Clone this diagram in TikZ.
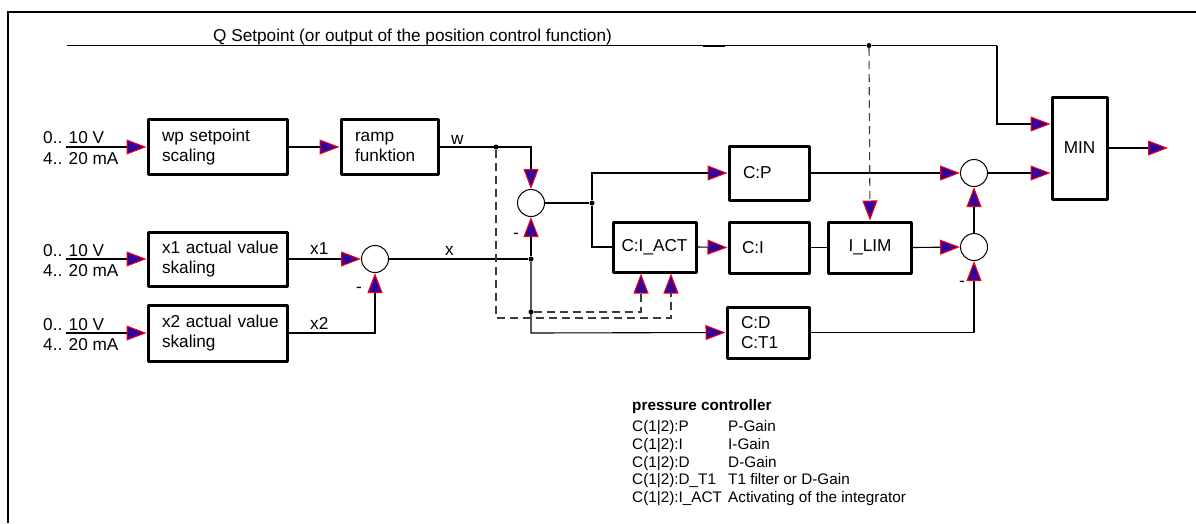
\documentclass[tikz,border=0pt]{standalone}
\usepackage{fontspec}
\setmainfont{Liberation Sans}
\usetikzlibrary{arrows.meta}
\definecolor{ablue}{RGB}{51,0,160}
\definecolor{ared}{RGB}{255,0,0}
\definecolor{dgray}{RGB}{60,60,60}
\begin{document}
\begin{tikzpicture}[x=1pt,y=-1pt,
  every node/.style={font=\fontsize{17.2}{20}\selectfont},
  blk/.style={draw,line width=3pt,line join=round,inner ysep=0pt,align=left},
  sumc/.style={draw,circle,line width=1pt,minimum size=27pt,inner sep=0pt},
  conn/.style={line width=1.1pt,draw=black},
  arr/.style={conn,-{Triangle[length=20pt,width=15pt,color=ared,fill=ablue,line width=1pt]}},
  dsh/.style={line width=1.1pt,draw=dgray,dash pattern=on 8pt off 5pt},
  darr/.style={dsh,-{Triangle[length=20pt,width=15pt,color=ared,fill=ablue,line width=1pt]}},
  dot/.style={circle,fill=black,inner sep=0pt,minimum size=5pt},
  lbl/.style={inner sep=0pt,anchor=base west},
  leg/.style={inner sep=0pt,anchor=base west,font=\fontsize{15.3}{17.8}\selectfont}
]
\useasboundingbox (0,0) rectangle (1196,523);
% frame
\draw[line width=2pt] (7.5,523) -- (7.5,12) -- (1196,12);

% blocks
\node[blk,text width=111pt,inner xsep=14pt,minimum height=55pt] (wp) at (217.5,147) {\mbox{wp setpoint}\\scaling};
\node[blk,text width=69pt,inner xsep=14pt,minimum height=55pt] (ramp) at (389.5,147) {ramp\\funktion};
\node[blk,text width=111pt,inner xsep=14pt,minimum height=54pt] (x1) at (217.5,259) {\mbox{x1 actual value}\\skaling};
\node[blk,text width=111pt,inner xsep=14pt,minimum height=56pt] (x2) at (217.5,333) {\mbox{x2 actual value}\\skaling};
\node[blk,text width=52pt,inner xsep=14pt,minimum height=54pt] (cp) at (769,173) {C:P};
\node[blk,text width=69pt,inner xsep=7pt,minimum height=50pt,align=center] (ciact) at (654.5,247) {\mbox{C:I\_ACT}};
\node[blk,text width=54pt,inner xsep=13pt,minimum height=51pt] (ci) at (769,247.5) {C:I};
\node[blk,text width=55pt,inner xsep=14pt,minimum height=51pt,align=center] (ilim) at (870,247.5) {I\_LIM};
\node[blk,text width=54pt,inner xsep=14pt,minimum height=51pt] (cd) at (768,332.5) {C:D\\C:T1};
\node[blk,text width=45pt,inner xsep=5pt,minimum height=102pt,align=center] (min) at (1079.5,148) {MIN};

% summing points
\node[sumc] (s1) at (375,259) {};
\node[sumc] (s2) at (531,203) {};
\node[sumc] (s3) at (974,173) {};
\node[sumc] (s4) at (974,247) {};

% junctions and free ends
\coordinate (inA) at (66,147);
\coordinate (inB) at (66,259);
\coordinate (inC) at (66,333);
\node[dot] (jw) at (496,147) {};
\coordinate (jw2) at (531,147);
\node[dot] (jx) at (531,259) {};
\node[dot] (j2) at (531,312) {};
\coordinate (jd) at (531,333);
\node[dot] (jp) at (592,203) {};
\coordinate (q0) at (67,45.5);
\node[dot] (jq) at (869,45.5) {};
\coordinate (q1) at (997,45.5);
\coordinate (q2) at (997,124);
\coordinate (qa) at (703,46);
\coordinate (qb) at (725,46);
\coordinate (out) at (1168,148);
\coordinate (da) at (496,318);
\coordinate (db) at (671,318);
\coordinate (dc) at (641,312);

% input labels
\node[lbl] (a1) at (43,143) {0.. 10 V};
\node[lbl] (a2) at (43,164) {4.. 20 mA};
\node[lbl] (b1) at (43,256) {0.. 10 V};
\node[lbl] (b2) at (43,276) {4.. 20 mA};
\node[lbl] (c1) at (43,330) {0.. 10 V};
\node[lbl] (c2) at (43,350) {4.. 20 mA};

% signal labels
\node[lbl] (lq) at (213,41.5) {Q Setpoint (or output of the position control function)};
\node[lbl] (lw) at (451,144) {w};
\node[lbl] (lx1) at (310,254) {x1};
\node[lbl] (lx2) at (310,329) {x2};
\node[lbl] (lx) at (445,255) {x};
\node[inner sep=0pt] (m1) at (359,290) {-};
\node[inner sep=0pt] (m2) at (516,236) {-};
\node[inner sep=0pt] (m3) at (962,284) {-};

% connectors
\draw[arr] (inA) -- (wp.west);
\draw[arr] (inB) -- (x1.west);
\draw[arr] (inC) -- (x2.west);
\draw[arr] (wp.east) -- (ramp.west);
\draw[arr] (ramp.east) -- (jw2) -- (s2.north);
\draw[arr] (x1.east) -- (s1.west);
\draw[arr] (x2.east) -| (s1.south);
\draw[conn] (s1.east) -- (jx);
\draw[arr] (jx) -- (s2.south);
\draw[arr] (jx) -- (jd) -- (cd.west);
\draw[conn] (s2.east) -- (jp);
\draw[arr] (jp) |- (cp.west);
\draw[conn] (jp) |- (ciact.west);
\draw[arr] (ciact.east) -- (ci.west);
\draw[conn] (ci.east) -- (ilim.west);
\draw[arr] (cp.east) -- (s3.west);
\draw[arr] (ilim.east) -- (s4.west);
\draw[arr] (cd.east) -| (s4.south);
\draw[arr] (s4.north) -- (s3.south);
\draw[arr] (s3.east) -- (min.west |- s3.east);
\draw[conn] (q0) -- (jq) -- (q1);
\draw[line width=2pt] (qa) -- (qb);
\draw[arr] (q1) -- (q2) -- (min.west |- q2);
\draw[arr] (min.east |- out) -- (out);
\draw[darr] (jq) -- (ilim.north);
\draw[darr] (jw) -- (da) -- (db) -- (ciact.south -| db);
\draw[darr] (j2) -- (dc) -- (ciact.south -| dc);

% legend
\node[leg,font=\fontsize{15.3}{17.8}\selectfont\bfseries] (lt) at (632,410) {pressure controller};
\node[leg] (p1) at (632,431.5) {C(1|2):P};
\node[leg] (p2) at (632,449.3) {C(1|2):I};
\node[leg] (p3) at (632,467.1) {C(1|2):D};
\node[leg] (p4) at (632,484.9) {C(1|2):D\_T1};
\node[leg] (p5) at (632,502.7) {C(1|2):I\_ACT};
\node[leg] (g1) at (728,431.5) {P-Gain};
\node[leg] (g2) at (728,449.3) {I-Gain};
\node[leg] (g3) at (728,467.1) {D-Gain};
\node[leg] (g4) at (728,484.9) {T1 filter or D-Gain};
\node[leg] (g5) at (728,502.7) {Activating of the integrator};
\end{tikzpicture}
\end{document}
